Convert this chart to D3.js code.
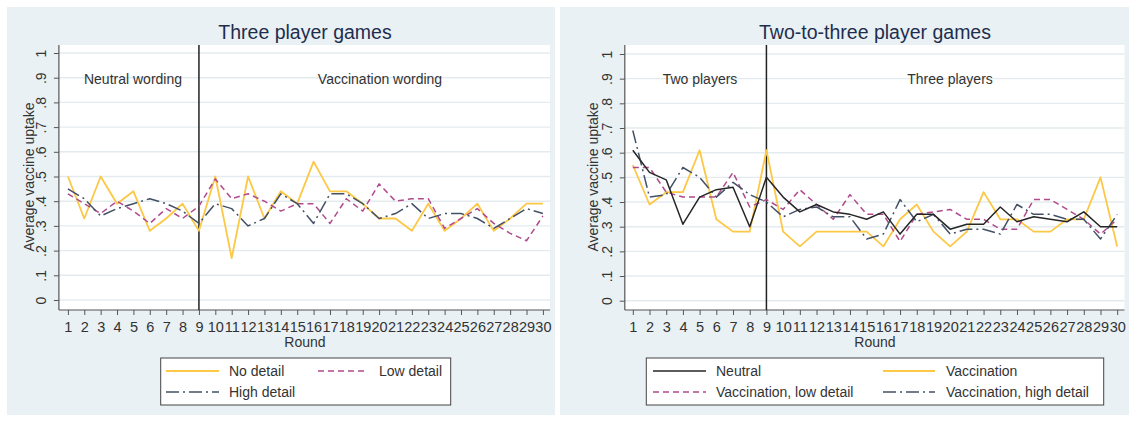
<!DOCTYPE html>
<html><head><meta charset="utf-8">
<script src="https://cdn.jsdelivr.net/npm/d3@7"></script>
<style>
body{margin:0;background:#fff;}
svg{display:block;font-family:"Liberation Sans",Arial,sans-serif;}
</style></head>
<body><svg id="c" width="1131" height="423"></svg>
<script>
// ---- data ----
const rounds = [1,2,3,4,5,6,7,8,9,10,11,12,13,14,15,16,17,18,19,20,21,22,23,24,25,26,27,28,29,30];
const yTicks = [0,0.1,0.2,0.3,0.4,0.5,0.6,0.7,0.8,0.9,1];
const yTickLabels = ["0",".1",".2",".3",".4",".5",".6",".7",".8",".9","1"];

// Left: Three player games
const noDetail   = [.50,.33,.50,.39,.44,.28,.33,.39,.28,.50,.17,.50,.33,.44,.39,.56,.44,.44,.39,.33,.33,.28,.39,.28,.33,.39,.28,.33,.39,.39];
const lowDetail  = [.43,.39,.35,.40,.36,.31,.37,.33,.38,.49,.41,.43,.40,.36,.39,.39,.31,.41,.36,.47,.40,.41,.41,.29,.33,.37,.31,.27,.24,.34];
const highDetail = [.45,.41,.34,.37,.39,.41,.39,.36,.31,.39,.37,.30,.33,.43,.39,.31,.43,.43,.39,.33,.35,.39,.33,.35,.35,.33,.29,.33,.37,.35];

// Right: Two-to-three player games
const neutral     = [.61,.52,.49,.31,.42,.45,.46,.30,.50,.42,.36,.39,.36,.35,.33,.36,.27,.35,.35,.29,.31,.31,.38,.32,.34,.33,.32,.36,.30,.30];
const vaccination = [.55,.39,.44,.44,.61,.33,.28,.28,.61,.28,.22,.28,.28,.28,.28,.22,.33,.39,.28,.22,.28,.44,.33,.33,.28,.28,.33,.33,.50,.22];
const vaccLow     = [.54,.54,.44,.42,.42,.42,.52,.38,.41,.37,.45,.39,.33,.43,.35,.35,.24,.35,.36,.37,.33,.33,.29,.29,.41,.41,.37,.33,.27,.33];
const vaccHigh    = [.69,.42,.43,.54,.50,.42,.48,.43,.40,.34,.37,.38,.34,.34,.25,.27,.41,.32,.35,.27,.29,.29,.27,.39,.35,.35,.33,.33,.25,.35];

const titles = ["Three player games","Two-to-three player games"];
const regionLabels = [["Neutral wording","Vaccination wording"],["Two players","Three players"]];
const leftLegend = ["No detail","Low detail","High detail"];
const rightLegend = ["Neutral","Vaccination","Vaccination, low detail","Vaccination, high detail"];
const splitRound = 9;

// ---- styles ----
const ST = {
  yellow:{stroke:"#fcc845",width:1.8,dash:null},
  purple:{stroke:"#b04a8c",width:1.5,dash:"6,4"},
  gray:{stroke:"#435166",width:1.5,dash:"13,4,2,4"},
  black:{stroke:"#262626",width:1.5,dash:null}
};
const FS = 14;

const svg = d3.select("#c");
svg.append("rect").attr("width",1131).attr("height",423).attr("fill","#ffffff");

function drawChart(cfg){
  const g = svg.append("g");
  g.append("rect").attr("x",cfg.panel[0]).attr("y",7).attr("width",cfg.panel[1]-cfg.panel[0]).attr("height",408).attr("fill","#e9f1f4");
  const x = d3.scaleLinear().domain([1,30]).range([cfg.x1,cfg.x30]);
  const y = d3.scaleLinear().domain([0,1]).range([cfg.y0,cfg.y1]);
  const top=45, bottom=310;
  g.append("rect").attr("x",cfg.axisX).attr("y",top).attr("width",cfg.right-cfg.axisX).attr("height",bottom-top).attr("fill","#fff");
  // grid
  g.selectAll(".grid").data(yTicks).join("line")
    .attr("x1",cfg.axisX).attr("x2",cfg.right).attr("y1",d=>y(d)).attr("y2",d=>y(d))
    .attr("stroke","#e4ebee").attr("stroke-width",1.4);
  // y axis
  const ya = g.append("g").attr("transform",`translate(${cfg.axisX},0)`)
    .call(d3.axisLeft(y).tickValues(yTicks).tickSize(5).tickFormat((d,i)=>yTickLabels[i]));
  ya.select(".domain").remove();
  ya.selectAll(".tick line").attr("stroke","#555");
  ya.selectAll(".tick text").attr("x",null).attr("dy",null)
    .attr("transform","translate(-13,0) rotate(-90)").attr("text-anchor","middle")
    .attr("font-size",FS).attr("fill","#333").attr("font-family","Liberation Sans, Arial, sans-serif");
  // x axis
  const xa = g.append("g").attr("transform",`translate(0,${bottom})`)
    .call(d3.axisBottom(x).tickValues(rounds).tickSize(5).tickFormat(d3.format("d")));
  xa.select(".domain").remove();
  xa.selectAll(".tick line").attr("stroke","#555");
  xa.selectAll(".tick text").attr("y",17).attr("dy","0.35em")
    .attr("font-size",14.5).attr("fill","#333").attr("font-family","Liberation Sans, Arial, sans-serif");
  // axis lines
  g.append("line").attr("x1",cfg.axisX).attr("x2",cfg.axisX).attr("y1",top).attr("y2",bottom).attr("stroke","#555").attr("stroke-width",1.2);
  g.append("line").attr("x1",cfg.axisX).attr("x2",cfg.right).attr("y1",bottom).attr("y2",bottom).attr("stroke","#555").attr("stroke-width",1.2);
  // split line
  g.append("line").attr("x1",x(splitRound)).attr("x2",x(splitRound)).attr("y1",top).attr("y2",bottom).attr("stroke","#222").attr("stroke-width",1.5);
  // series
  const line = d3.line().x((d,i)=>x(rounds[i])).y(d=>y(d));
  cfg.series.forEach(s=>{
    const st = ST[s.style];
    g.append("path").datum(s.values).attr("d",line).attr("fill","none")
      .attr("stroke",st.stroke).attr("stroke-width",st.width).attr("stroke-dasharray",st.dash)
      .attr("stroke-linejoin","round");
  });
  // texts
  g.append("text").attr("x",cfg.titleX).attr("y",39).attr("text-anchor","middle").attr("font-size",19.5).attr("fill","#1f2d4d").text(cfg.title);
  g.append("text").attr("x",cfg.regX[0]).attr("y",84).attr("text-anchor","middle").attr("font-size",FS).attr("fill","#333").text(cfg.regions[0]);
  g.append("text").attr("x",cfg.regX[1]).attr("y",84).attr("text-anchor","middle").attr("font-size",FS).attr("fill","#333").text(cfg.regions[1]);
  g.append("text").attr("x",cfg.titleX).attr("y",347).attr("text-anchor","middle").attr("font-size",FS).attr("fill","#333").text("Round");
  g.append("text").attr("transform",`translate(${cfg.ylabX},177) rotate(-90)`).attr("text-anchor","middle").attr("font-size",FS).attr("fill","#333").text("Average vaccine uptake");
  // legend
  const L = cfg.legend;
  g.append("rect").attr("x",L.x0).attr("y",358).attr("width",L.x1-L.x0).attr("height",47).attr("fill","#fff").attr("stroke","#444").attr("stroke-width",1);
  L.items.forEach(it=>{
    const st = ST[it.style];
    const ry = it.row===0?371:392;
    g.append("line").attr("x1",it.sx0).attr("x2",it.sx1).attr("y1",ry).attr("y2",ry)
      .attr("stroke",st.stroke).attr("stroke-width",st.width).attr("stroke-dasharray",st.dash);
    g.append("text").attr("x",it.tx).attr("y",ry+5).attr("font-size",FS).attr("fill","#333").text(it.label);
  });
}

drawChart({
  panel:[7,555], x1:67.9, x30:542.9, y0:300, y1:53, axisX:58.9, right:550,
  title:titles[0], titleX:305, regions:regionLabels[0], regX:[133,380], ylabX:33.5,
  series:[{values:noDetail,style:"yellow"},{values:lowDetail,style:"purple"},{values:highDetail,style:"gray"}],
  legend:{x0:160.7,x1:450.7,items:[
    {label:leftLegend[0],style:"yellow",row:0,sx0:166,sx1:219,tx:229},
    {label:leftLegend[1],style:"purple",row:0,sx0:318,sx1:368,tx:379},
    {label:leftLegend[2],style:"gray",row:1,sx0:166,sx1:219,tx:229}
  ]}
});
drawChart({
  panel:[560,1129], x1:632.8, x30:1117.2, y0:300.7, y1:54, axisX:624.8, right:1124.5,
  title:titles[1], titleX:875, regions:regionLabels[1], regX:[700,950], ylabX:598,
  series:[{values:vaccination,style:"yellow"},{values:vaccLow,style:"purple"},{values:vaccHigh,style:"gray"},{values:neutral,style:"black"}],
  legend:{x0:646.3,x1:1103.7,items:[
    {label:rightLegend[0],style:"black",row:0,sx0:653,sx1:706,tx:716},
    {label:rightLegend[1],style:"yellow",row:0,sx0:883,sx1:935,tx:946},
    {label:rightLegend[2],style:"purple",row:1,sx0:653,sx1:706,tx:716},
    {label:rightLegend[3],style:"gray",row:1,sx0:883,sx1:935,tx:946}
  ]}
});
</script></body></html>
